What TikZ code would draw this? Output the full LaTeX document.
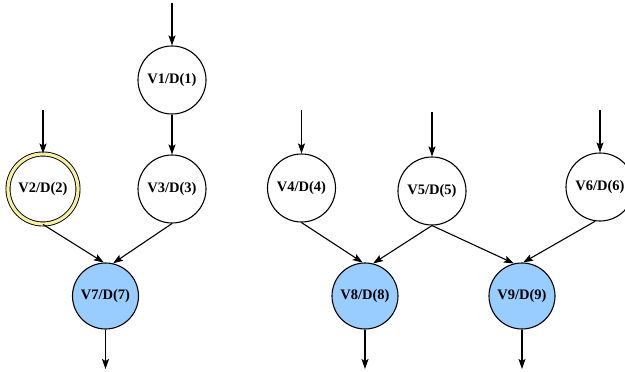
\documentclass[tikz,border=0pt]{standalone}
\usepackage{fontspec}
\setmainfont{Liberation Serif}
\usetikzlibrary{arrows.meta}
\definecolor{opblue}{RGB}{153,204,255}
\definecolor{ringyellow}{RGB}{245,240,160}
\begin{document}
\begin{tikzpicture}[x=1pt,y=-1pt,
  vert/.style={circle,draw=black,line width=1.1pt,fill=white,inner sep=0pt,
    minimum size=68pt,font=\bfseries\fontsize{14.5}{16}\selectfont},
  outv/.style={vert,fill=opblue,minimum size=66pt},
  ringv/.style={vert,minimum size=70pt,draw=black,line width=0.9pt,
    double=ringyellow,double distance=3.2pt},
  flow/.style={line width=1.1pt,-{Stealth[length=10pt,width=7pt,inset=2pt]}}]
\useasboundingbox (0,0) rectangle (625,372);

% operation vertices
\node[vert]  (v1) at (172,80)    {V1/D(1)};
\node[ringv] (v2) at (43,189)    {V2/D(2)};
\node[vert]  (v3) at (172,189)   {V3/D(3)};
\node[vert]  (v4) at (301.5,188) {V4/D(4)};
\node[vert]  (v5) at (432,191)   {V5/D(5)};
\node[vert]  (v6) at (600,187)   {V6/D(6)};
\node[outv]  (v7) at (105.5,296) {V7/D(7)};
\node[outv]  (v8) at (365,296)   {V8/D(8)};
\node[outv]  (v9) at (522,296)   {V9/D(9)};

% free ends of the incoming and outgoing arrows
\coordinate (i1) at (172,3);
\coordinate (i2) at (43,110);
\coordinate (i4) at (301.5,110);
\coordinate (i5) at (432,112);
\coordinate (i6) at (600,110);
\coordinate (o7) at (105.5,369);
\coordinate (o8) at (365,369);
\coordinate (o9) at (522,369);

% inputs
\draw[flow] (i1) -- (v1.north);
\draw[flow] (i2) -- (v2.north);
\draw[flow] (i4) -- (v4.north);
\draw[flow] (i5) -- (v5.north);
\draw[flow] (i6) -- (v6.north);

% dependencies
\draw[flow] (v1.south) -- (v3.north);
\draw[flow] (v2.south) -- (v7.93);
\draw[flow] (v3.south) -- (v7.77);
\draw[flow] (v4.south) -- (v8.94);
\draw[flow] (v5.south) -- (v8.76);
\draw[flow] (v5.south) -- (v9.104);
\draw[flow] (v6.262) -- (v9.88);

% outputs
\draw[flow] (v7.south) -- (o7);
\draw[flow] (v8.south) -- (o8);
\draw[flow] (v9.south) -- (o9);
\end{tikzpicture}
\end{document}
